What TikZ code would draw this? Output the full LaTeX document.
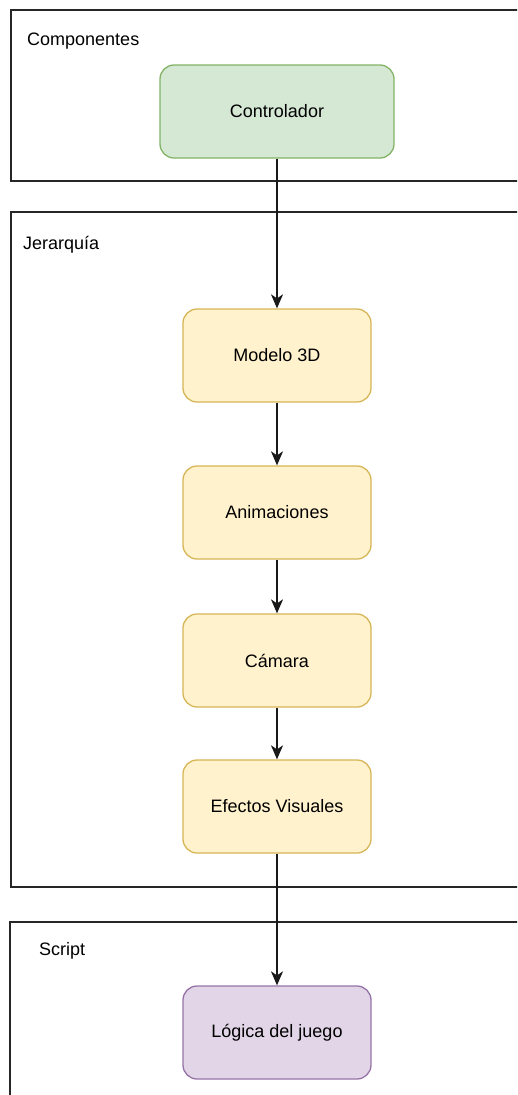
\documentclass[tikz,border=0pt]{standalone}
\usepackage{fontspec}
\setmainfont{Liberation Sans}
\usetikzlibrary{arrows.meta}
\definecolor{greenfill}{HTML}{D5E8D4}
\definecolor{greenline}{HTML}{82B366}
\definecolor{yellowfill}{HTML}{FFF2CC}
\definecolor{yellowline}{HTML}{D6B656}
\definecolor{purplefill}{HTML}{E1D5E7}
\definecolor{purpleline}{HTML}{9673A6}
\begin{document}
\begin{tikzpicture}[x=1pt,y=-1pt,
  every node/.style={font=\fontsize{18}{22}\selectfont},
  container/.style={draw=black!85,line width=1.5pt},
  grouplabel/.style={anchor=west,inner sep=0pt},
  block/.style={draw,rounded corners=14pt,line width=1.3pt,
    minimum width=188pt,minimum height=93pt,inner sep=0pt},
  greenblock/.style={block,fill=greenfill,draw=greenline},
  yellowblock/.style={block,fill=yellowfill,draw=yellowline},
  purpleblock/.style={block,fill=purplefill,draw=purpleline},
  flow/.style={draw=black!90,line width=1.3pt,
    -{Stealth[length=14pt,width=12pt,inset=4pt]}}]
\clip (0,0) rectangle (517,1095);

% group frames (they run past the right edge)
\draw[container] (11,10) rectangle (540,181);
\draw[container] (11,212) rectangle (540,887);
\draw[container] (10,922) rectangle (540,1120);

\node[grouplabel] (lcomp) at (27,41) {Componentes};
\node[grouplabel] (ljer) at (23,245) {Jerarquía};
\node[grouplabel] (lscr) at (39,951) {Script};

% blocks
\node[greenblock, minimum width=234pt] (ctrl) at (277,111.5) {Controlador};
\node[yellowblock] (mod) at (277,355.5) {Modelo 3D};
\node[yellowblock] (anim) at (277,512.5) {Animaciones};
\node[yellowblock] (cam) at (277,660.5) {Cámara};
\node[yellowblock] (fx) at (277,806.5) {Efectos Visuales};
\node[purpleblock] (logic) at (277,1032.5) {Lógica del juego};

% connectors
\draw[flow] (ctrl.south) -- (mod.north);
\draw[flow] (mod.south) -- (anim.north);
\draw[flow] (anim.south) -- (cam.north);
\draw[flow] (cam.south) -- (fx.north);
\draw[flow] (fx.south) -- (logic.north);
\end{tikzpicture}
\end{document}
